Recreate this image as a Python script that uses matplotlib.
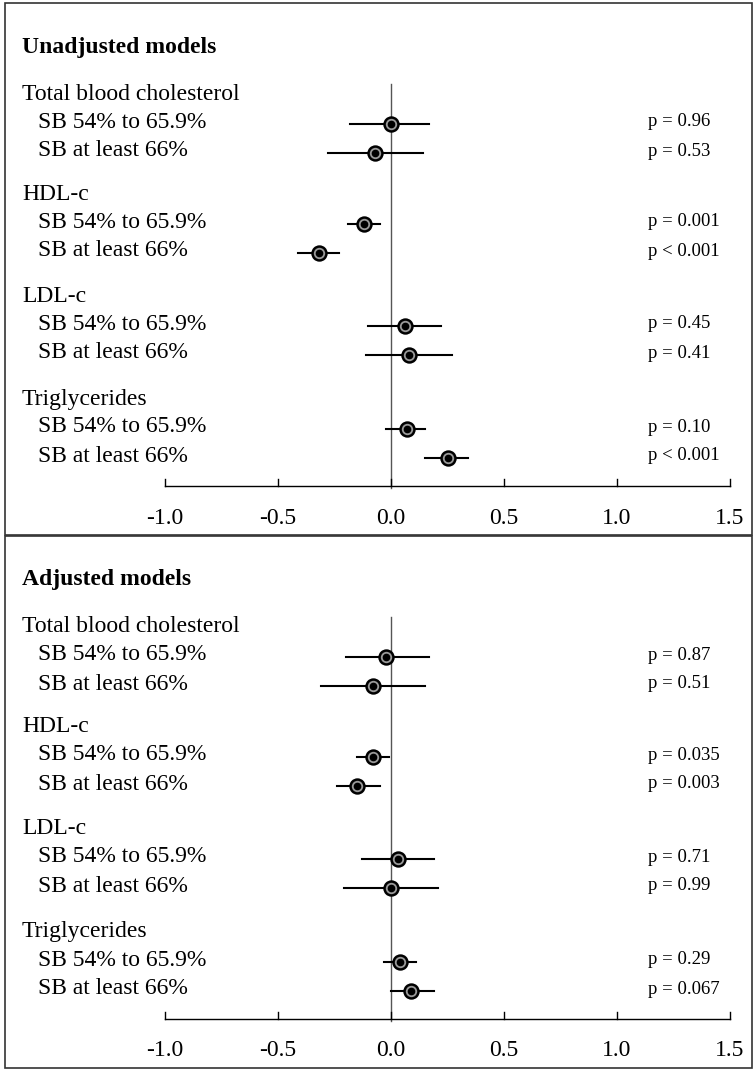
import matplotlib.pyplot as plt
from matplotlib.patches import Rectangle

plt.rcParams['font.family'] = ['Liberation Serif', 'DejaVu Serif']

groups = ['Total blood cholesterol', 'HDL-c', 'LDL-c', 'Triglycerides']
rows = ['SB 54% to 65.9%', 'SB at least 66%']
ticks = [-1.0, -0.5, 0.0, 0.5, 1.0, 1.5]

unadj_est = [0.00, -0.07, -0.12, -0.32, 0.06, 0.08, 0.07, 0.25]
unadj_lo = [-0.18, -0.28, -0.19, -0.41, -0.10, -0.11, -0.02, 0.15]
unadj_hi = [0.17, 0.14, -0.05, -0.23, 0.22, 0.27, 0.15, 0.34]
unadj_p = ['p = 0.96', 'p = 0.53', 'p = 0.001', 'p < 0.001',
           'p = 0.45', 'p = 0.41', 'p = 0.10', 'p < 0.001']

adj_est = [-0.02, -0.08, -0.08, -0.15, 0.03, 0.00, 0.04, 0.09]
adj_lo = [-0.20, -0.31, -0.15, -0.24, -0.13, -0.21, -0.03, 0.00]
adj_hi = [0.17, 0.15, -0.01, -0.05, 0.19, 0.21, 0.11, 0.19]
adj_p = ['p = 0.87', 'p = 0.51', 'p = 0.035', 'p = 0.003',
         'p = 0.71', 'p = 0.99', 'p = 0.29', 'p = 0.067']

W, H = 755, 1072
fig = plt.figure(figsize=(W / 100, H / 100), dpi=100)
ax = fig.add_axes([0, 0, 1, 1])
ax.set_ylim(H, 0)
# x in data units: pixel 165 -> -1.0, pixel 730 -> 1.5
ppu = (730 - 165) / 2.5
ax.set_xlim(-1 - 165 / ppu, -1 + (W - 165) / ppu)
ax.axis('off')
px = lambda p: -1 + (p - 165) / ppu


def panel(y0, title, est, lo, hi, pv):
    ax.add_patch(Rectangle((px(5), y0 - 2), px(752) - px(5), 532,
                           fill=False, ec='#333333', lw=1.2))
    ax.text(px(22), y0 + 42, title, fontsize=17, fontweight='bold', va='center')
    head_y = [y0 + 89, y0 + 189, y0 + 291, y0 + 394]
    ax.plot([0, 0], [y0 + 79, y0 + 483], color='#555555', lw=1)
    for g, name in enumerate(groups):
        ax.text(px(22), head_y[g], name, fontsize=17, va='center')
        for r in range(2):
            i = g * 2 + r
            y = head_y[g] + 30 + r * 29
            ax.text(px(38), y - 2, rows[r], fontsize=17, va='center')
            ax.plot([lo[i], hi[i]], [y, y], color='black', lw=1.5)
            ax.plot(est[i], y, 'o', ms=10, mfc='#999999', mec='black', mew=1.8)
            ax.plot(est[i], y, 'o', ms=4.5, color='black')
            ax.text(px(648), y - 2, pv[i], fontsize=13.5, va='center')
    ya = y0 + 481
    ax.plot([-1, 1.5], [ya, ya], color='black', lw=1)
    for t in ticks:
        ax.plot([t, t], [ya - 7, ya], color='black', lw=1)
        ax.text(t, ya + 32, f'{t:.1f}', fontsize=17, ha='center', va='center')


panel(5, 'Unadjusted models', unadj_est, unadj_lo, unadj_hi, unadj_p)
panel(538, 'Adjusted models', adj_est, adj_lo, adj_hi, adj_p)

fig.savefig('out.png', dpi=100)
